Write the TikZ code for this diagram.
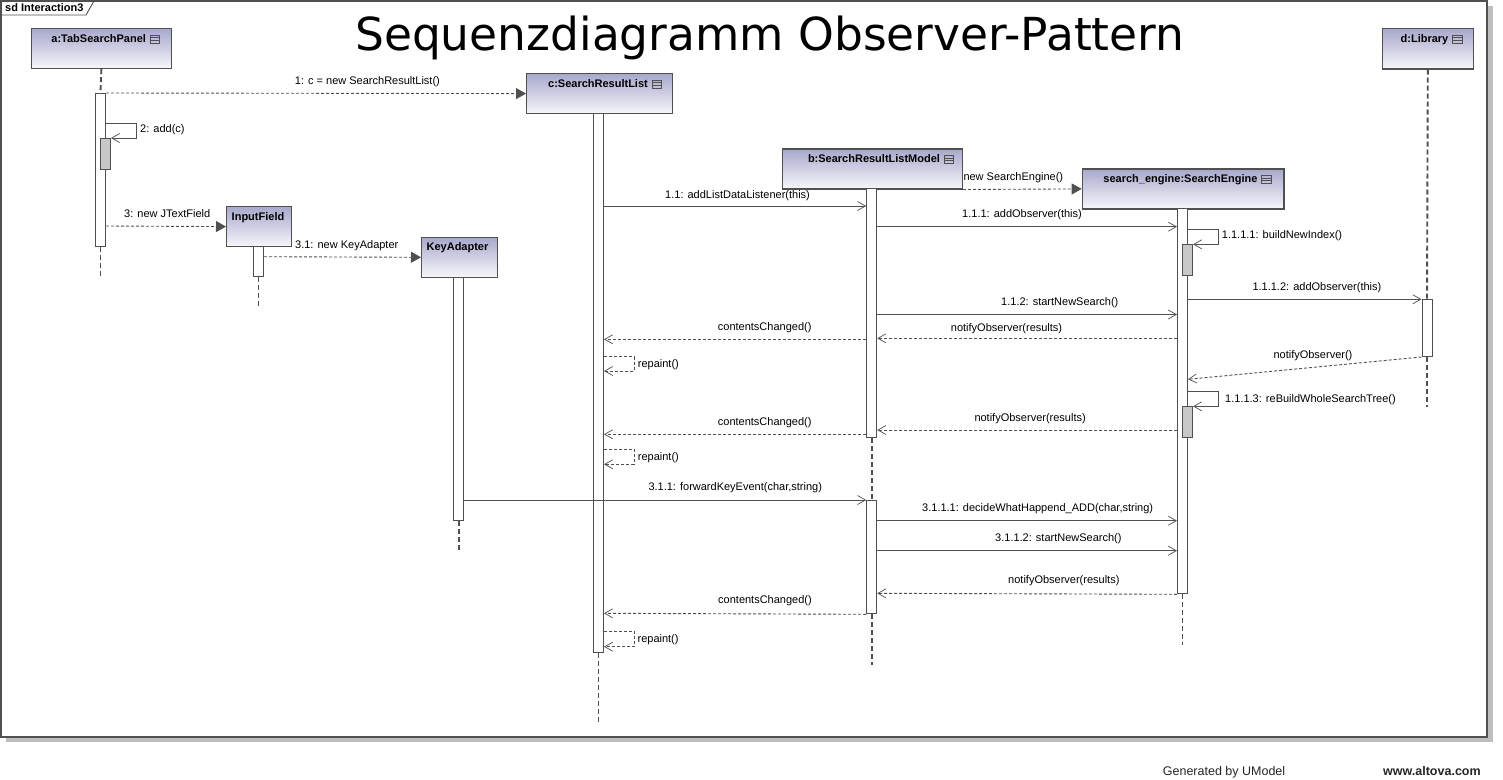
\documentclass[tikz,border=0pt]{standalone}
\usepackage{fontspec}
\setmainfont{Liberation Sans}
\newfontfamily\titlefont{DejaVu Sans}
\usetikzlibrary{arrows.meta}
\definecolor{linec}{RGB}{80,80,80}
\definecolor{boxtop}{RGB}{168,168,204}
\definecolor{boxbot}{RGB}{247,247,251}
\definecolor{nestc}{RGB}{200,200,200}
\definecolor{shadowc}{RGB}{190,190,190}
\newcommand\objicon[1]{%
  \draw[linec, line width=0.8pt] ([xshift=4pt,yshift=-1pt]#1.base east) rectangle ++(9.5,-8);
  \draw[linec, line width=0.8pt] ([xshift=4pt,yshift=1.67pt]#1.base east) -- ++(9.5,0);
  \draw[linec, line width=0.8pt] ([xshift=4pt,yshift=4.33pt]#1.base east) -- ++(9.5,0);}
\tikzset{
  objbox/.style={draw=linec, line width=1.2pt, top color=boxtop, bottom color=boxbot, rectangle, inner sep=0pt, anchor=north west},
  hdr/.style={font=\bfseries\fontsize{11}{13}\selectfont, inner sep=0pt, anchor=base},
  lbl/.style={font=\fontsize{11}{13}\selectfont, inner sep=0pt, anchor=base west},
  actbar/.style={draw=linec, fill=white, line width=1pt, inner sep=0pt, minimum width=10pt, anchor=north},
  nestbar/.style={actbar, fill=nestc},
  life/.style={draw=linec, line width=1.9pt, dash pattern=on 5pt off 3pt},
  msg/.style={draw=linec, line width=0.9pt, -{Straight Barb[length=8pt,width=9pt,line width=0.7pt]}},
  reply/.style={msg, dash pattern=on 3pt off 2pt},
  create/.style={draw=linec, line width=0.9pt, dash pattern=on 3pt off 2pt, -{Triangle[length=10pt,width=11pt]}},
}
\begin{document}
\begin{tikzpicture}[x=1pt,y=-1pt]
\useasboundingbox (0,0) rectangle (1503,779);
\fill[white] (0,0) rectangle (1503,779);
% frame and shadow
\fill[shadowc] (6,737) rectangle (1492.5,742);
\fill[shadowc] (1487,6) rectangle (1492.5,742);
\draw[linec, line width=1.6pt] (1.3,1) rectangle (1487,736.7);
\draw[linec, line width=0.9pt] (1,15) -- (86,15) -- (94,1);
\node[font=\bfseries\fontsize{11}{13}\selectfont, inner sep=0pt, anchor=base west] (sd) at (5,11.5) {sd Interaction3};
% title
\node[font=\titlefont\fontsize{45.5}{54}\selectfont, inner sep=0pt, anchor=base west] (title) at (355,50) {Sequenzdiagramm Observer-Pattern};
% footer
\node[font=\fontsize{12.5}{15}\selectfont, inner sep=0pt, anchor=base west, text=black!85] (gen) at (1162.7,775) {Generated by UModel};
\node[font=\bfseries\fontsize{12.5}{15}\selectfont, inner sep=0pt, anchor=base west, text=black!85] (www) at (1383,775) {www.altova.com};

% object boxes
\node[objbox, minimum width=139.5pt, minimum height=40pt] (a) at (31,28) {};
\node[hdr] (aL) at (98.7,42) {a:TabSearchPanel}; \objicon{aL}
\node[objbox, minimum width=145.5pt, minimum height=40pt] (c) at (526,73) {};
\node[hdr] (cL) at (598,87) {c:SearchResultList}; \objicon{cL}
\node[objbox, minimum width=180pt, minimum height=40pt] (b) at (781.7,148.3) {};
\node[hdr] (bL) at (874,162.3) {b:SearchResultListModel}; \objicon{bL}
\node[objbox, minimum width=201.6pt, minimum height=40pt] (s) at (1081.7,168.3) {};
\node[hdr] (sL) at (1180.5,182.3) {search\_engine:SearchEngine}; \objicon{sL}
\node[objbox, minimum width=91pt, minimum height=40.3pt] (d) at (1381.7,28) {};
\node[hdr] (dL) at (1424.5,42) {d:Library}; \objicon{dL}
\node[objbox, minimum width=65pt, minimum height=40pt] (i) at (226,206) {};
\node[hdr] (iL) at (258,220) {InputField};
\node[objbox, minimum width=75.7pt, minimum height=40pt] (k) at (421,236.7) {};
\node[hdr] (kL) at (457.5,250.7) {KeyAdapter};

% activation bars
\node[actbar, minimum height=153pt] (aB) at (100.5,93) {};
\node[nestbar, minimum height=31pt] (aN) at (105.5,138) {};
\node[actbar, minimum height=30pt] (iB) at (258.5,246) {};
\node[actbar, minimum height=243.3pt] (kB) at (458.8,276.7) {};
\node[actbar, minimum height=538.7pt] (cB) at (598.5,113) {};
\node[actbar, minimum height=248.7pt] (bB1) at (871.7,188.3) {};
\node[actbar, minimum height=113.3pt] (bB2) at (871.7,500) {};
\node[actbar, minimum height=385pt] (sB) at (1182.5,208.3) {};
\node[nestbar, minimum height=30.7pt] (sN1) at (1187.5,244.3) {};
\node[nestbar, minimum height=30.7pt] (sN2) at (1187.5,406.3) {};
\node[actbar, minimum height=56.7pt] (dB) at (1427,299.3) {};

% lifeline ends
\coordinate (aEnd) at (100.5,277);
\coordinate (iEnd) at (258.5,306);
\coordinate (kEnd) at (458.8,551.7);
\coordinate (cEnd) at (598.5,722);
\coordinate (bEnd) at (871.7,665);
\coordinate (sEnd) at (1182.5,645);
\coordinate (dEnd) at (1427,406.7);

% lifelines
\draw[life] (a.south) -- (aB.north);
\draw[life] (aB.south) -- (aEnd);
\draw[life] (iB.south) -- (iEnd);
\draw[life] (kB.south) -- (kEnd);
\draw[life] (cB.south) -- (cEnd);
\draw[life] (bB1.south) -- (bB2.north);
\draw[life] (bB2.south) -- (bEnd);
\draw[life] (sB.south) -- (sEnd);
\draw[life] (d.south) -- (dB.north);
\draw[life] (dB.south) -- (dEnd);

% messages
\draw[create] (aB.east |- 0,93) -- (c.west);
\node[lbl] (m1) at (294.7,84) {1: c = new SearchResultList()};

\draw[msg] (aB.east |- 0,123) -- ++(30.5,0) -- ++(0,15) -- (aN.north east);
\node[lbl] (m2) at (140,132) {2: add(c)};

\draw[create] (aB.east |- 0,226) -- (i.west);
\node[lbl] (m3) at (124,217.3) {3: new JTextField};

\draw[create] (iB.east |- 0,256.7) -- (k.west);
\node[lbl] (m31) at (295,248.3) {3.1: new KeyAdapter};

\draw[msg] (cB.east |- 0,206) -- (bB1.west |- 0,206);
\node[lbl] (m11) at (665,198.5) {1.1: addListDataListener(this)};

\draw[create] (b.south east) -- (s.west);
\node[lbl] (mnew) at (963.3,180) {new SearchEngine()};

\draw[msg] (bB1.east |- 0,226.7) -- (sB.west |- 0,226.7);
\node[lbl] (m111) at (962,217.5) {1.1.1: addObserver(this)};

\draw[msg] (sB.east |- 0,229.3) -- ++(30,0) -- ++(0,15) -- (sN1.north east);
\node[lbl] (m1111) at (1221.7,238) {1.1.1.1: buildNewIndex()};

\draw[msg] (sB.east |- 0,299.3) -- (dB.north west);
\node[lbl] (m1112) at (1252.3,290) {1.1.1.2: addObserver(this)};

\draw[msg] (bB1.east |- 0,314.5) -- (sB.west |- 0,314.5);
\node[lbl] (m112) at (1001,305) {1.1.2: startNewSearch()};

\draw[reply] (sB.west |- 0,338.3) -- (bB1.east |- 0,338.3);
\node[lbl] (n1) at (950.7,331) {notifyObserver(results)};

\draw[reply] (bB1.west |- 0,339.3) -- (cB.east |- 0,339.3);
\node[lbl] (cc1) at (717.7,330.5) {contentsChanged()};

\draw[reply] (cB.east |- 0,356.7) -- ++(30,0) -- ++(0,14.3) -- (cB.east |- 0,371);
\node[lbl] (rp1) at (637.7,367) {repaint()};

\draw[reply] (dB.south west) -- (sB.east |- 0,379.3);
\node[lbl] (nd) at (1273.3,358) {notifyObserver()};

\draw[msg] (sB.east |- 0,391.3) -- ++(30,0) -- ++(0,15) -- (sN2.north east);
\node[lbl] (m1113) at (1225,402) {1.1.1.3: reBuildWholeSearchTree()};

\draw[reply] (sB.west |- 0,430) -- (bB1.east |- 0,430);
\node[lbl] (n2) at (974.3,421) {notifyObserver(results)};

\draw[reply] (bB1.west |- 0,434.3) -- (cB.east |- 0,434.3);
\node[lbl] (cc2) at (717.7,425) {contentsChanged()};

\draw[reply] (cB.east |- 0,449.3) -- ++(30,0) -- ++(0,15) -- (cB.east |- 0,464.3);
\node[lbl] (rp2) at (637.7,460) {repaint()};

\draw[msg] (kB.east |- 0,500) -- (bB2.north west);
\node[lbl] (m311) at (648.3,490) {3.1.1: forwardKeyEvent(char,string)};

\draw[msg] (bB2.east |- 0,520.7) -- (sB.west |- 0,520.7);
\node[lbl] (m3111) at (922,511) {3.1.1.1: decideWhatHappend\_ADD(char,string)};

\draw[msg] (bB2.east |- 0,550.7) -- (sB.west |- 0,550.7);
\node[lbl] (m3112) at (995,541.7) {3.1.1.2: startNewSearch()};

\draw[reply] (sB.south west) -- (bB2.east |- 0,593.3);
\node[lbl] (n3) at (1008,583.3) {notifyObserver(results)};

\draw[reply] (bB2.south west) -- (cB.east |- 0,613.3);
\node[lbl] (cc3) at (718,603.3) {contentsChanged()};

\draw[reply] (cB.east |- 0,631) -- ++(30,0) -- ++(0,15.7) -- (cB.east |- 0,646.7);
\node[lbl] (rp3) at (637.4,642.3) {repaint()};
\end{tikzpicture}
\end{document}
